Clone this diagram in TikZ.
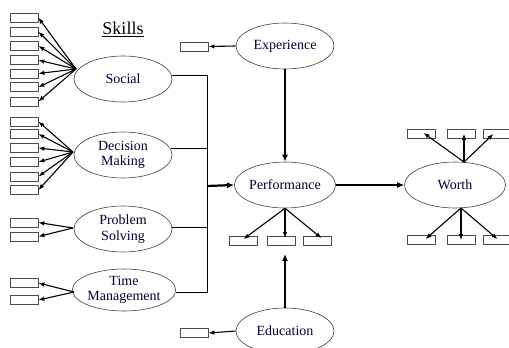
\documentclass[tikz,border=0pt]{standalone}
\usepackage{fontspec}
\setmainfont{Liberation Serif}
\usetikzlibrary{shapes.geometric,arrows.meta,calc}
\begin{document}
\begin{tikzpicture}[x=1pt,y=-1pt,
  oval/.style={ellipse,draw=black!75,line width=0.6pt,minimum width=98pt,minimum height=46pt,inner sep=0pt,align=center,font=\fontsize{14}{15.5}\selectfont,text=black!80!blue},
  box/.style={draw=black!70,line width=0.8pt,minimum width=28pt,minimum height=9pt,inner sep=0pt},
  thin/.style={line width=1.1pt,-{Latex[length=6pt,width=4.5pt]}},
  thick/.style={line width=2.2pt,-{Latex[length=7pt,width=6pt]}},
  bus/.style={line width=0.9pt}]
\useasboundingbox (0,0) rectangle (509,348);
% skills title
\node[font=\fontsize{18}{20}\selectfont] (skills) at (123,29) {\underline{Skills}};
% skill ellipses
\node[oval] (social) at (123,79) {Social};
\node[oval] (decision) at (123,155) {Decision\\Making};
\node[oval] (problem) at (123,229) {Problem\\Solving};
\node[oval,minimum width=101pt,minimum height=42pt] (timem) at (124,290) {Time\\Management};
% main ellipses
\node[oval] (exper) at (285,46) {Experience};
\node[oval] (perf) at (285,185) {Performance};
\node[oval] (edu) at (285,331) {Education};
\node[oval,minimum width=101pt] (worth) at (455,185) {Worth};
% social boxes
\foreach \i/\y in {1/17.7,2/31.7,3/45.9,4/60.2,5/73.5,6/87.2,7/101.5}
  \node[box] (s\i) at (24,\y) {};
\coordinate (sa) at (76,69);
\foreach \i in {1,...,7} \draw[thin] (sa) -- (s\i.east);
% decision boxes
\foreach \i/\y in {1/121.5,2/134,3/148,4/162,5/176.5,6/190}
  \node[box] (d\i) at (24,\y) {};
\coordinate (da) at (73,152);
\foreach \i in {1,...,6} \draw[thin] (da) -- (d\i.east);
% problem boxes
\node[box] (p1) at (24,222.5) {};
\node[box] (p2) at (24,236.5) {};
\coordinate (pa) at (73,228);
\draw[thin] (pa) -- (p1.east);
\draw[thin] (pa) -- (p2.east);
% time boxes
\node[box] (t1) at (24,283) {};
\node[box] (t2) at (24,300) {};
\coordinate (ta) at (74,292);
\draw[thin] (ta) -- (t1.east);
\draw[thin] (ta) -- (t2.east);
% bus
\coordinate (b1) at (207,75);
\coordinate (b2) at (207,148);
\coordinate (b3) at (207,227);
\coordinate (b4) at (207,292);
\coordinate (bm) at (207,186);
\draw[bus] (b1 -| social.east) -- (b1) -- (b4) -- (b4 -| timem.east);
\draw[bus] (b2 -| decision.east) ++(-1,0) -- (b2);
\draw[bus] (b3 -| problem.east) -- (b3);
\draw[thick] (bm) -- (perf.west);
% experience / education
\node[box] (eb) at (194,46.5) {};
\draw[thin] (exper.west) -- (eb.east);
\node[box] (edb) at (194,333) {};
\draw[thin] (edu.west) -- (edb.east);
\draw[thick] (exper.south) -- (perf.north);
\coordinate (eduend) at (285,254);
\draw[thick] (edu.north) -- (eduend);
% performance boxes
\node[box] (pb1) at (243.5,241) {};
\node[box] (pb2) at (281,241) {};
\node[box] (pb3) at (317.5,241) {};
\draw[thin] (perf.south) -- ([yshift=-3pt]pb1.north);
\draw[thin] (perf.south) -- ([yshift=-2pt]pb2.north -| perf.south);
\draw[thin] (perf.south) -- ([xshift=4pt,yshift=-2pt]pb3.north);
% worth
\draw[thick] (perf.east) -- (worth.west);
\node[box] (wt1) at (421.5,134) {};
\node[box] (wt2) at (461.5,134) {};
\node[box] (wt3) at (497.5,134) {};
\node[box] (wb1) at (421.5,240) {};
\node[box] (wb2) at (461.5,240) {};
\node[box] (wb3) at (497.5,240) {};
\coordinate (wt) at (464,162);
\coordinate (wb) at (461,208);
\draw[thin] (wt) -- ([xshift=2pt,yshift=6pt]wt1.south);
\draw[thin] (wt) -- ([yshift=5pt]wt2.south -| wt);
\draw[thin] (wt) -- ([xshift=-4pt,yshift=5pt]wt3.south);
\draw[thin] (wb) -- ([xshift=4pt,yshift=-4pt]wb1.north);
\draw[thin] (wb) -- ([yshift=-5pt]wb2.north -| wb);
\draw[thin] (wb) -- ([yshift=-4pt]wb3.north);
\end{tikzpicture}
\end{document}
